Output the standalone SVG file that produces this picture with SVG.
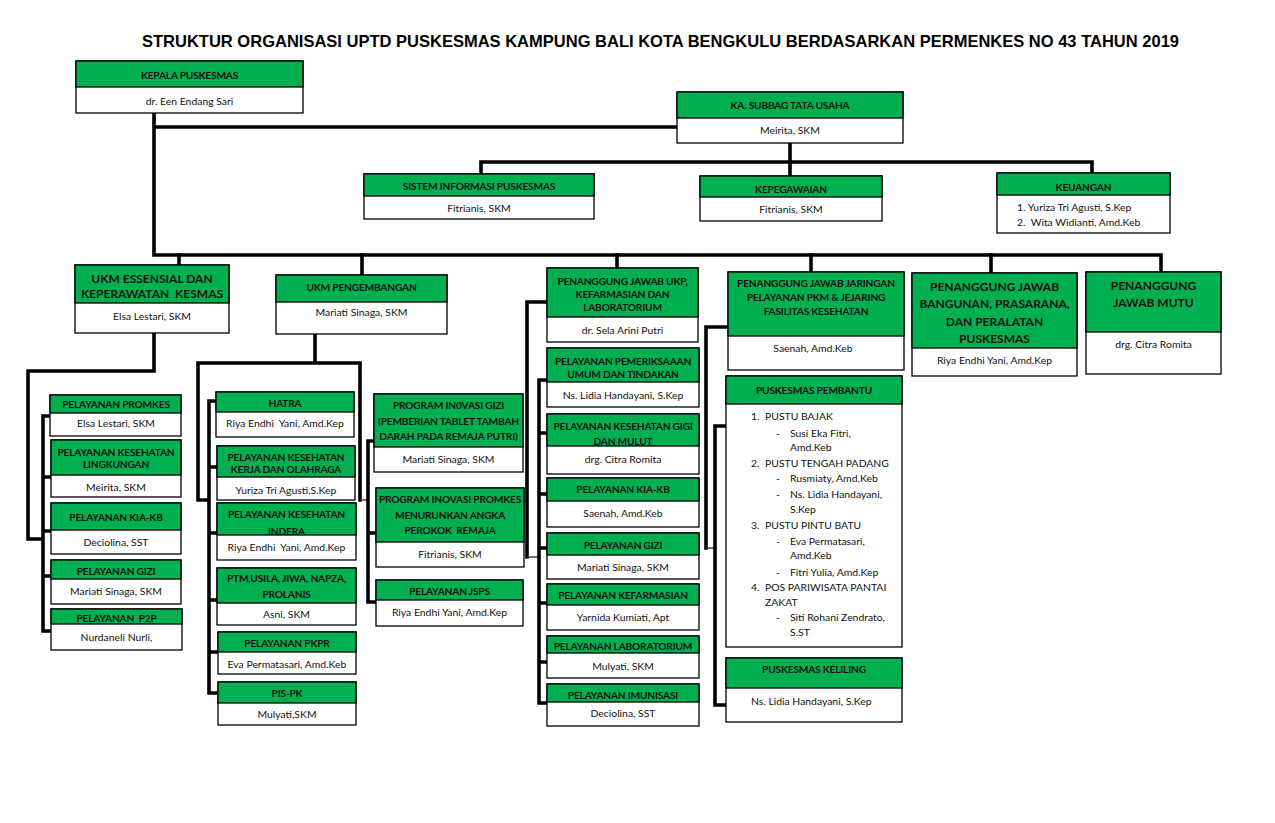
<svg xmlns="http://www.w3.org/2000/svg" width="1275" height="823" viewBox="0 0 1275 823">
<style>
.box{fill:#fff;stroke:#000;stroke-width:1.3}
.hdr{fill:#00B050;stroke:#000;stroke-width:1.3}
.h{font-family:Lato,"Liberation Sans",sans-serif;font-weight:bold;font-size:10.2px;letter-spacing:-0.2px;fill:#111;text-anchor:middle}
.hb{font-family:Lato,"Liberation Sans",sans-serif;font-weight:bold;font-size:12px;fill:#111;text-anchor:middle}
.t{font-family:Lato,"Liberation Sans",sans-serif;font-size:10.4px;fill:#111;text-anchor:middle}
.l{font-family:Lato,"Liberation Sans",sans-serif;font-size:10.4px;fill:#111}
.title{font-family:"Liberation Sans",Arial,sans-serif;font-weight:bold;font-size:16.3px;fill:#000}
.c{fill:none;stroke:#000;stroke-width:3.6;stroke-linecap:square;stroke-linejoin:miter}
.cn{fill:none;stroke:#333;stroke-width:1.4}
</style>
<rect width="1275" height="823" fill="#fff"/>
<text class="title" x="142" y="47" textLength="1037" lengthAdjust="spacingAndGlyphs">STRUKTUR ORGANISASI UPTD PUSKESMAS KAMPUNG BALI KOTA BENGKULU BERDASARKAN PERMENKES NO 43 TAHUN 2019</text>

<g id="connectors">
<path class="c" d="M154,113 V255 H1161 V272 M154,127 H677"/>
<path class="c" d="M179,255 V265 M362,255 V275 M617,255 V268 M811,255 V272 M991,255 V273"/>
<path class="c" d="M790,143 V162 M481,174 V162 H1092 V173 M790,162 V176"/>
<path class="c" d="M154,333 V371 H28 V539 H43 M43,416 V631 M43,416 H50 M43,477 H51 M43,531 H51 M43,576 H51 M43,631 H52"/>
<path class="c" d="M315,334 V363 M198,500 V363 H360 V500 M198,500 H209 M209,401 V693 M209,401 H216 M209,467 H217 M209,533 H217 M209,600 H217 M209,652 H218 M209,693 H218"/>
<path class="cn" d="M360,500 H368"/>
<path class="c" d="M368,441 V602 M368,441 H374 M368,533 H376 M368,602 H376"/>
<path class="c" d="M547,302 H527 V557"/>
<path class="cn" d="M527,557 H539"/>
<path class="c" d="M539,380 V703 M539,380 H547 M539,433 H547 M539,494 H547 M539,548 H547 M539,603 H547 M539,662 H547 M539,703 H547"/>
<path class="c" d="M728,327 H706 V548"/>
<path class="cn" d="M706,548 H715"/>
<path class="c" d="M715,426 V705 M715,426 H726 M715,705 H726"/>
</g>

<g id="kepala">
<rect class="box" x="76" y="61" width="227" height="52"/><rect class="hdr" x="76" y="61" width="227" height="26"/>
<text class="h" x="189.5" y="79">KEPALA PUSKESMAS</text>
<text class="t" x="189.5" y="104.5">dr. Een Endang Sari</text>
</g>
<g id="subbag">
<rect class="box" x="677" y="92" width="226" height="51"/><rect class="hdr" x="677" y="92" width="226" height="26"/>
<text class="h" x="790" y="109">KA. SUBBAG TATA USAHA</text>
<text class="t" x="790" y="134">Meirita, SKM</text>
</g>
<g id="sip">
<rect class="box" x="364" y="174" width="230" height="45"/><rect class="hdr" x="364" y="174" width="230" height="22"/>
<text class="h" x="479" y="190">SISTEM INFORMASI PUSKESMAS</text>
<text class="t" x="479" y="211.5">Fitrianis, SKM</text>
</g>
<g id="kepegawaian">
<rect class="box" x="700" y="176" width="182" height="45"/><rect class="hdr" x="700" y="176" width="182" height="21"/>
<text class="h" x="791" y="193">KEPEGAWAIAN</text>
<text class="t" x="791" y="213">Fitrianis, SKM</text>
</g>
<g id="keuangan">
<rect class="box" x="997" y="173" width="173" height="60"/><rect class="hdr" x="997" y="173" width="173" height="22"/>
<text class="h" x="1083.5" y="190.5">KEUANGAN</text>
<text class="l" x="1017" y="210.5" xml:space="preserve">1. Yuriza Tri Agusti, S.Kep</text>
<text class="l" x="1017" y="226" xml:space="preserve">2.  Wita Widianti, Amd.Keb</text>
</g>

<g id="ukm-essensial">
<rect class="box" x="75" y="265" width="154" height="68"/><rect class="hdr" x="75" y="265" width="154" height="38"/>
<text class="hb" x="152" y="283">UKM ESSENSIAL DAN</text>
<text class="hb" x="152" y="298" xml:space="preserve">KEPERAWATAN  KESMAS</text>
<text class="t" x="152" y="319.5">Elsa Lestari, SKM</text>
</g>
<g id="ukm-pengembangan">
<rect class="box" x="276" y="275" width="171" height="59"/><rect class="hdr" x="276" y="275" width="171" height="27"/>
<text class="h" x="361.5" y="290.5">UKM PENGEMBANGAN</text>
<text class="t" x="361.5" y="316">Mariati Sinaga, SKM</text>
</g>
<g id="pj-ukp">
<rect class="box" x="547" y="268" width="151" height="74"/><rect class="hdr" x="547" y="268" width="151" height="49"/>
<text class="h" x="622.5" y="284.5">PENANGGUNG JAWAB UKP,</text>
<text class="h" x="622.5" y="298">KEFARMASIAN DAN</text>
<text class="h" x="622.5" y="311">LABORATORIUM</text>
<text class="t" x="622.5" y="334">dr. Sela Arini Putri</text>
</g>
<g id="pj-jaringan">
<rect class="box" x="728" y="272" width="176" height="98"/><rect class="hdr" x="728" y="272" width="176" height="64"/>
<text class="h" x="816" y="287">PENANGGUNG JAWAB JARINGAN</text>
<text class="h" x="816" y="301">PELAYANAN PKM &amp; JEJARING</text>
<text class="h" x="816" y="314.5">FASILITAS KESEHATAN</text>
<text class="t" x="813" y="352">Saenah, Amd.Keb</text>
</g>
<g id="pj-bangunan">
<rect class="box" x="912" y="273" width="165" height="103"/><rect class="hdr" x="912" y="273" width="165" height="75"/>
<text class="hb" x="994.5" y="290.5">PENANGGUNG JAWAB</text>
<text class="hb" x="994.5" y="308">BANGUNAN, PRASARANA,</text>
<text class="hb" x="994.5" y="325.5">DAN PERALATAN</text>
<text class="hb" x="994.5" y="342.5">PUSKESMAS</text>
<text class="t" x="994.5" y="363.5">Riya Endhi Yani, Amd.Kep</text>
</g>
<g id="pj-mutu">
<rect class="box" x="1086" y="272" width="135" height="102"/><rect class="hdr" x="1086" y="272" width="135" height="60"/>
<text class="hb" x="1153.5" y="289.5">PENANGGUNG</text>
<text class="hb" x="1153.5" y="306.5">JAWAB MUTU</text>
<text class="t" x="1153.5" y="347.5">drg. Citra Romita</text>
</g>

<g id="promkes">
<rect class="box" x="50" y="395" width="131" height="41"/><rect class="hdr" x="50" y="395" width="131" height="18"/>
<text class="h" x="116" y="408">PELAYANAN PROMKES</text>
<text class="t" x="116" y="427">Elsa Lestari, SKM</text>
</g>
<g id="kesling">
<rect class="box" x="51" y="440" width="130" height="57"/><rect class="hdr" x="51" y="440" width="130" height="35"/>
<text class="h" x="116" y="455.5">PELAYANAN KESEHATAN</text>
<text class="h" x="116" y="468">LINGKUNGAN</text>
<text class="t" x="116" y="490.5">Meirita, SKM</text>
</g>
<g id="kia-kb-1">
<rect class="box" x="51" y="503" width="130" height="51"/><rect class="hdr" x="51" y="503" width="130" height="27"/>
<text class="h" x="116" y="521">PELAYANAN KIA-KB</text>
<text class="t" x="116" y="545.5">Deciolina, SST</text>
</g>
<g id="gizi-1">
<rect class="box" x="51" y="560" width="130" height="44"/><rect class="hdr" x="51" y="560" width="130" height="19"/>
<text class="h" x="116" y="574.5">PELAYANAN GIZI</text>
<text class="t" x="116" y="594.5">Mariati Sinaga, SKM</text>
</g>
<g id="p2p">
<rect class="box" x="51" y="609" width="131" height="41"/><rect class="hdr" x="51" y="609" width="131" height="15"/>
<text class="h" x="116.5" y="622" xml:space="preserve">PELAYANAN  P2P</text>
<text class="t" x="116.5" y="640.5">Nurdaneli Nurli,</text>
</g>

<g id="hatra">
<rect class="box" x="216" y="392" width="138" height="45"/><rect class="hdr" x="216" y="392" width="138" height="20"/>
<text class="h" x="285" y="406.5">HATRA</text>
<text class="t" x="285" y="426.5" xml:space="preserve">Riya Endhi  Yani, Amd.Kep</text>
</g>
<g id="k3">
<rect class="box" x="217" y="446" width="138" height="54"/><rect class="hdr" x="217" y="446" width="138" height="31"/>
<text class="h" x="286" y="460.5">PELAYANAN KESEHATAN</text>
<text class="h" x="286" y="473">KERJA DAN OLAHRAGA</text>
<text class="t" x="286" y="494">Yuriza Tri Agusti,S.Kep</text>
</g>
<g id="indera">
<rect class="box" x="217" y="503" width="139" height="57"/><rect class="hdr" x="217" y="503" width="139" height="32"/>
<text class="h" x="286.5" y="518">PELAYANAN KESEHATAN</text>
<text class="h" x="286.5" y="534.5">INDERA</text>
<text class="t" x="286.5" y="550.5" xml:space="preserve">Riya Endhi  Yani, Amd.Kep</text>
</g>
<g id="ptm">
<rect class="box" x="217" y="568" width="139" height="57"/><rect class="hdr" x="217" y="568" width="139" height="35"/>
<text class="h" x="286.5" y="582">PTM,USILA, JIWA, NAPZA,</text>
<text class="h" x="286.5" y="598">PROLANIS</text>
<text class="t" x="286.5" y="618">Asni, SKM</text>
</g>
<g id="pkpr">
<rect class="box" x="218" y="632" width="138" height="42"/><rect class="hdr" x="218" y="632" width="138" height="20"/>
<text class="h" x="287" y="647">PELAYANAN PKPR</text>
<text class="t" x="287" y="668">Eva Permatasari, Amd.Keb</text>
</g>
<g id="pis-pk">
<rect class="box" x="218" y="682" width="138" height="43"/><rect class="hdr" x="218" y="682" width="138" height="21"/>
<text class="h" x="287" y="696.5">PIS-PK</text>
<text class="t" x="287" y="718">Mulyati,SKM</text>
</g>

<g id="inovasi-gizi">
<rect class="box" x="374" y="394" width="149" height="78"/><rect class="hdr" x="374" y="394" width="149" height="53"/>
<text class="h" x="448.5" y="409">PROGRAM IN0VASI GIZI</text>
<text class="h" x="448.5" y="424.5">(PEMBERIAN TABLET TAMBAH</text>
<text class="h" x="448.5" y="439.5">DARAH PADA REMAJA PUTRI)</text>
<text class="t" x="448.5" y="463">Mariati Sinaga, SKM</text>
</g>
<g id="inovasi-promkes">
<rect class="box" x="376" y="488" width="148" height="79"/><rect class="hdr" x="376" y="488" width="148" height="54"/>
<text class="h" x="450" y="503">PROGRAM INOVASI PROMKES</text>
<text class="h" x="450" y="518.5">MENURUNKAN ANGKA</text>
<text class="h" x="450" y="533.5" xml:space="preserve">PEROKOK  REMAJA</text>
<text class="t" x="450" y="557.5">Fitrianis, SKM</text>
</g>
<g id="jsps">
<rect class="box" x="376" y="580" width="147" height="46"/><rect class="hdr" x="376" y="580" width="147" height="20"/>
<text class="h" x="449.5" y="594.5">PELAYANAN JSPS</text>
<text class="t" x="449.5" y="616">Riya Endhi Yani, Amd.Kep</text>
</g>

<g id="pemeriksaan">
<rect class="box" x="547" y="348" width="152" height="59"/><rect class="hdr" x="547" y="348" width="152" height="34"/>
<text class="h" x="623" y="365">PELAYANAN PEMERIKSAAAN</text>
<text class="h" x="623" y="378">UMUM DAN TINDAKAN</text>
<text class="t" x="623" y="399">Ns. Lidia Handayani, S.Kep</text>
</g>
<g id="gigi">
<rect class="box" x="547" y="414" width="152" height="60"/><rect class="hdr" x="547" y="414" width="152" height="32"/>
<text class="h" x="623" y="429.5">PELAYANAN KESEHATAN GIGI</text>
<text class="h" x="623" y="445">DAN MULUT</text>
<text class="t" x="623" y="463">drg. Citra Romita</text>
</g>
<g id="kia-kb-2">
<rect class="box" x="547" y="478" width="152" height="49"/><rect class="hdr" x="547" y="478" width="152" height="23"/>
<text class="h" x="623" y="493">PELAYANAN KIA-KB</text>
<text class="t" x="623" y="517">Saenah, Amd.Keb</text>
</g>
<g id="gizi-2">
<rect class="box" x="547" y="533" width="152" height="46"/><rect class="hdr" x="547" y="533" width="152" height="22"/>
<text class="h" x="623" y="549">PELAYANAN GIZI</text>
<text class="t" x="623" y="570.5">Mariati Sinaga, SKM</text>
</g>
<g id="kefarmasian">
<rect class="box" x="547" y="584" width="152" height="46"/><rect class="hdr" x="547" y="584" width="152" height="21"/>
<text class="h" x="623" y="599">PELAYANAN KEFARMASIAN</text>
<text class="t" x="623" y="621">Yarnida Kumiati, Apt</text>
</g>
<g id="laboratorium">
<rect class="box" x="547" y="636" width="152" height="42"/><rect class="hdr" x="547" y="636" width="152" height="17"/>
<text class="h" x="623" y="650">PELAYANAN LABORATORIUM</text>
<text class="t" x="623" y="669.5">Mulyati, SKM</text>
</g>
<g id="imunisasi">
<rect class="box" x="547" y="684" width="152" height="42"/><rect class="hdr" x="547" y="684" width="152" height="18"/>
<text class="h" x="623" y="698.5">PELAYANAN IMUNISASI</text>
<text class="t" x="623" y="717">Deciolina, SST</text>
</g>

<g id="pustu">
<rect class="box" x="726" y="376" width="176" height="271"/><rect class="hdr" x="726" y="376" width="176" height="28"/>
<text class="h" x="814" y="394">PUSKESMAS PEMBANTU</text>
<text class="l" x="751" y="420">1.</text><text class="l" x="765" y="420">PUSTU BAJAK</text>
<text class="l" x="776" y="436.5">-</text><text class="l" x="790" y="436.5">Susi Eka Fitri,</text>
<text class="l" x="790" y="451">Amd.Keb</text>
<text class="l" x="751" y="467">2.</text><text class="l" x="765" y="467">PUSTU TENGAH PADANG</text>
<text class="l" x="776" y="482">-</text><text class="l" x="790" y="482">Rusmiaty, Amd.Keb</text>
<text class="l" x="776" y="498">-</text><text class="l" x="790" y="498">Ns. Lidia Handayani,</text>
<text class="l" x="790" y="513">S.Kep</text>
<text class="l" x="751" y="529">3.</text><text class="l" x="765" y="529">PUSTU PINTU BATU</text>
<text class="l" x="776" y="544.5">-</text><text class="l" x="790" y="544.5">Eva Permatasari,</text>
<text class="l" x="790" y="559">Amd.Keb</text>
<text class="l" x="776" y="575.5">-</text><text class="l" x="790" y="575.5">Fitri Yulia, Amd.Kep</text>
<text class="l" x="751" y="590.5">4.</text><text class="l" x="765" y="590.5">POS PARIWISATA PANTAI</text>
<text class="l" x="765" y="606">ZAKAT</text>
<text class="l" x="776" y="621">-</text><text class="l" x="790" y="621">Siti Rohani Zendrato,</text>
<text class="l" x="790" y="636">S.ST</text>
</g>
<g id="keliling">
<rect class="box" x="726" y="658" width="176" height="64"/><rect class="hdr" x="726" y="658" width="176" height="30"/>
<text class="h" x="814" y="673">PUSKESMAS KELILING</text>
<text class="l" x="751" y="704.5">Ns. Lidia Handayani, S.Kep</text>
</g>
</svg>
